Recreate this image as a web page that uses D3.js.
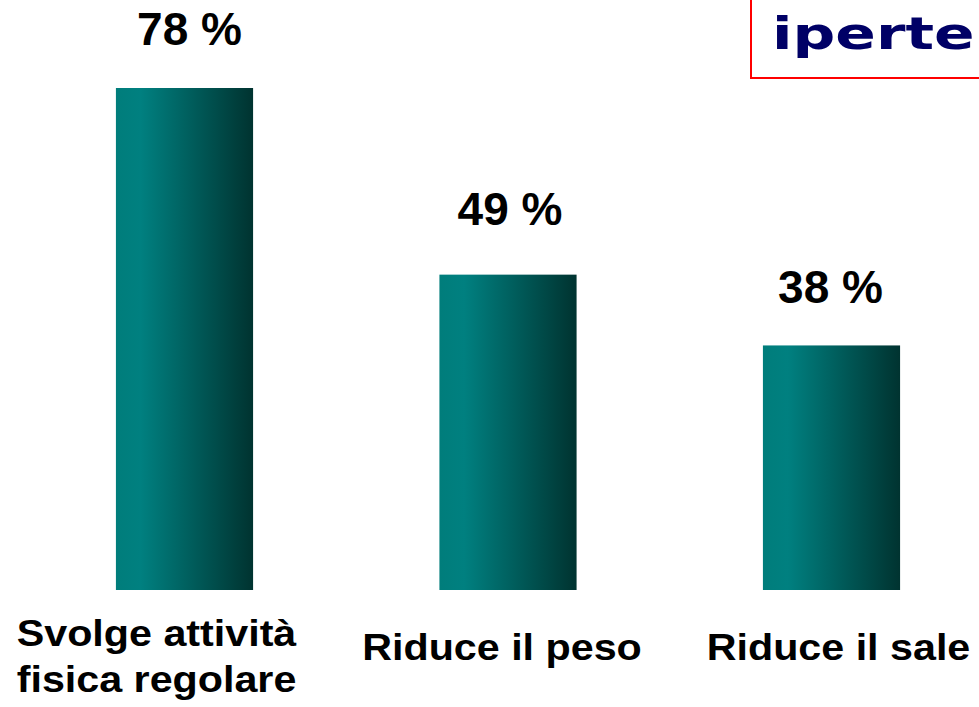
<!DOCTYPE html>
<html>
<head>
<meta charset="utf-8">
<script src="https://cdn.jsdelivr.net/npm/d3@7"></script>
<style>
  html, body { margin: 0; padding: 0; background: #fff; overflow: hidden; }
  svg { display: block; }
</style>
</head>
<body>
<div class="container-chart"></div>
<script>
/* --------------------------------------------------------- */
/* DATA                                                      */
/* --------------------------------------------------------- */
const categories = ["Svolge attività\nfisica regolare", "Riduce il peso", "Riduce il sale"];
const values = [78, 49, 38];
const titleText = "iperte";

/* --------------------------------------------------------- */
/* DRAW CHART                                                */
/* --------------------------------------------------------- */
const width = 979, height = 707;

const svg = d3.select(".container-chart")
    .append("svg")
    .attr("width", width)
    .attr("height", height);

// bar gradient, teal on the left fading to dark on the right
const defs = svg.append("defs");
const grad = defs.append("linearGradient")
    .attr("id", "barGrad")
    .attr("x1", "0%").attr("x2", "100%")
    .attr("y1", "0%").attr("y2", "0%");
grad.append("stop").attr("offset", "0%").attr("stop-color", "#007d7b");
grad.append("stop").attr("offset", "18%").attr("stop-color", "#008080");
grad.append("stop").attr("offset", "100%").attr("stop-color", "#003330");

const x = d3.scaleBand()
    .domain(categories)
    .range([22.75, 993.25])
    .paddingInner(0.576)
    .paddingOuter(0.288);

// zero line at the bottom of the bars
const y = d3.scaleLinear()
    .domain([0, 78])
    .range([590, 88]);

const data = categories.map((c, i) => ({ cat: c, val: values[i] }));

svg.selectAll(".bar")
    .data(data)
    .enter().append("rect")
    .attr("class", "bar")
    .attr("x", d => x(d.cat))
    .attr("y", d => y(d.val))
    .attr("width", x.bandwidth())
    .attr("height", d => y(0) - y(d.val))
    .attr("fill", "url(#barGrad)");

// value labels
const valShift = [5, 2, -1];
svg.selectAll(".val")
    .data(data)
    .enter().append("text")
    .attr("class", "val")
    .attr("x", (d, i) => x(d.cat) + x.bandwidth() / 2 + valShift[i])
    .attr("y", (d, i) => y(d.val) - [43, 50, 42][i])
    .attr("text-anchor", "middle")
    .style("font-family", "'Liberation Sans', Arial, sans-serif")
    .style("font-weight", "bold")
    .style("font-size", "46px")
    .text(d => d.val + " %");

// category labels
const catShift = [-28, -6, 7];
const catG = svg.selectAll(".cat")
    .data(data)
    .enter().append("g")
    .attr("class", "cat")
    .attr("transform", (d, i) => {
        const cx = x(d.cat) + x.bandwidth() / 2 + catShift[i];
        const lines = d.cat.split("\n").length;
        const by = lines > 1 ? 646 : 660;
        return "translate(" + cx + "," + by + ") scale(1.1,1)";
    });

catG.each(function (d) {
    const g = d3.select(this);
    d.cat.split("\n").forEach((line, j) => {
        g.append("text")
            .attr("y", j * 46)
            .attr("text-anchor", "middle")
            .style("font-family", "'Liberation Sans', Arial, sans-serif")
            .style("font-weight", "bold")
            .style("font-size", "37.5px")
            .text(line);
    });
});

// title box in the top right corner (cut by the page edge)
svg.append("rect")
    .attr("x", 751)
    .attr("y", -10)
    .attr("width", 260)
    .attr("height", 88)
    .attr("fill", "#fff")
    .attr("stroke", "#ff0000")
    .attr("stroke-width", 2);

svg.append("text")
    .attr("transform", "translate(772,49) scale(1.33,1)")
    .style("font-family", "'DejaVu Sans', sans-serif")
    .style("font-weight", "bold")
    .style("font-size", "45px")
    .attr("fill", "#000066")
    .text(titleText);
</script>
</body>
</html>
